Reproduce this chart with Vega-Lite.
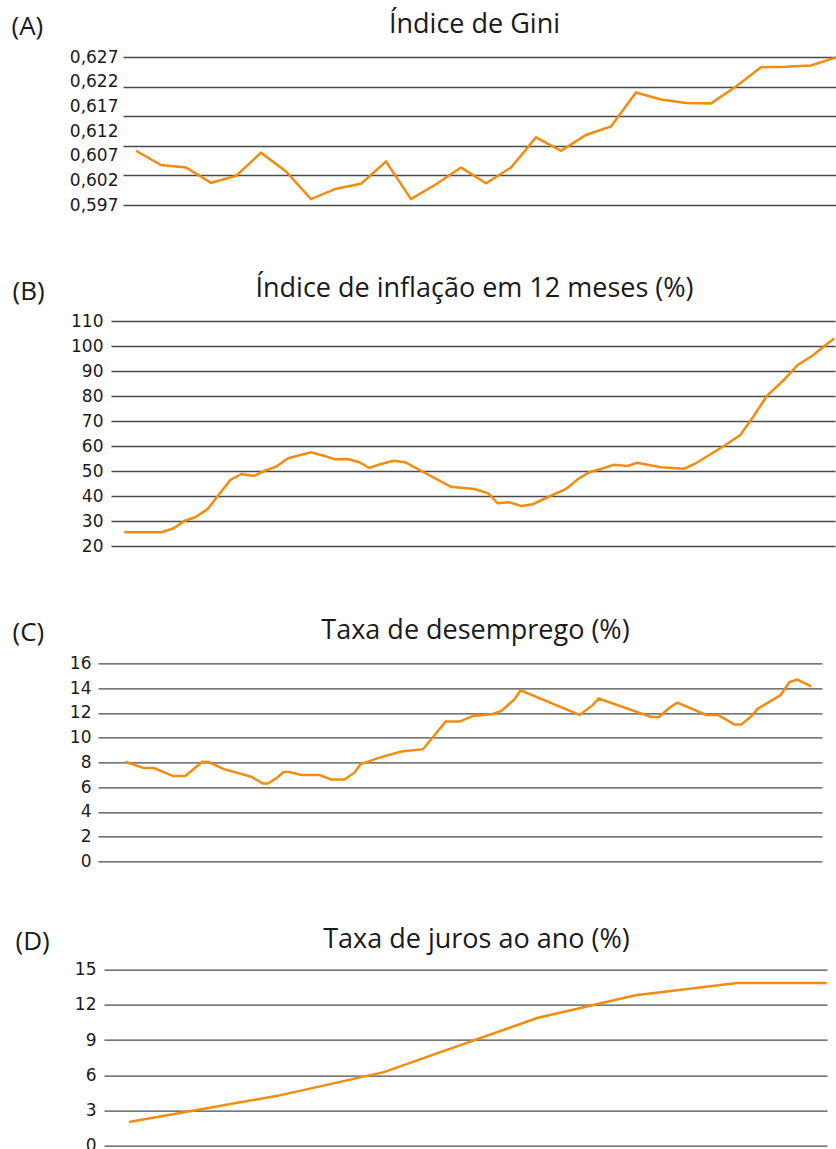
{
  "$schema": "https://vega.github.io/schema/vega-lite/v6.json",
  "background": "white",
  "padding": {"left": 9, "top": 10, "right": 0, "bottom": 0},
  "config": {
    "view": {"stroke": null},
    "axis": {
      "labelFont": "DejaVu Sans", "labelFontSize": 17, "labelColor": "#1a1a1a",
      "ticks": false, "domain": false,
      "gridColor": "#4a4a4a", "gridWidth": 1.3, "gridOpacity": 1,
      "titleFont": "Open Sans", "titleFontWeight": "normal", "titleColor": "#1a1a1a"
    },
    "line": {"color": "#F18C0E", "strokeWidth": 2.5}
  },
  "spacing": 55.6,
  "vconcat": [
    {
      "spacing": 62.3,
      "vconcat": [
        {
          "spacing": 61,
          "vconcat": [
            {"spacing": 0, "hconcat": [
              {"width": 2, "height": 1, "data": {"values": []}, "mark": {"type": "point", "opacity": 0}},
              {
                "width": 713, "height": 148,
                "data": {"values": [
                  {"i": 1, "v": 0.6080}, {"i": 2, "v": 0.6051}, {"i": 3, "v": 0.6046}, {"i": 4, "v": 0.6015},
                  {"i": 5, "v": 0.6029}, {"i": 6, "v": 0.6076}, {"i": 7, "v": 0.6038}, {"i": 8, "v": 0.5982},
                  {"i": 9, "v": 0.6003}, {"i": 10, "v": 0.6013}, {"i": 11, "v": 0.6058}, {"i": 12, "v": 0.5982},
                  {"i": 13, "v": 0.6012}, {"i": 14, "v": 0.6046}, {"i": 15, "v": 0.6014}, {"i": 16, "v": 0.6046},
                  {"i": 17, "v": 0.6107}, {"i": 18, "v": 0.6080}, {"i": 19, "v": 0.6112}, {"i": 20, "v": 0.6129},
                  {"i": 21, "v": 0.6198}, {"i": 22, "v": 0.6184}, {"i": 23, "v": 0.6177}, {"i": 24, "v": 0.6176},
                  {"i": 25, "v": 0.6210}, {"i": 26, "v": 0.6249}, {"i": 27, "v": 0.6250}, {"i": 28, "v": 0.6253},
                  {"i": 29, "v": 0.6269}
                ]},
                "layer": [
                  {
                    "mark": {"type": "line", "strokeOpacity": 0},
                    "encoding": {
                      "x": {"field": "i", "type": "quantitative", "scale": {"domain": [0.48, 29], "nice": false, "zero": false},
                            "axis": {"orient": "top", "labels": false, "grid": false, "title": "Índice de Gini", "titleFontSize": 27, "titleX": 351, "titleY": -25, "titleBaseline": "alphabetic", "titleAlign": "center"}},
                      "y": {"field": "v", "type": "quantitative", "scale": {"domain": [0.597, 0.627], "nice": false, "zero": false},
                            "axis": {"orient": "left", "values": [0.597, 0.603, 0.609, 0.615, 0.621, 0.627], "labels": false, "grid": true, "title": null}}
                    }
                  },
                  {
                    "mark": {"type": "line"},
                    "encoding": {
                      "x": {"field": "i", "type": "quantitative", "scale": {"domain": [0.48, 29], "nice": false, "zero": false},
                            "axis": {"orient": "top", "labels": false, "grid": false, "title": "Índice de Gini", "titleFontSize": 27, "titleX": 351, "titleY": -25, "titleBaseline": "alphabetic", "titleAlign": "center"}},
                      "y": {"field": "v", "type": "quantitative", "scale": {"domain": [0.597, 0.627], "nice": false, "zero": false},
                            "axis": {"orient": "left", "values": [0.597, 0.602, 0.607, 0.612, 0.617, 0.622, 0.627], "grid": false, "labelPadding": 5,
                                     "labelExpr": "replace(format(datum.value, '.3f'), '.', ',')",
                                     "title": "(A)", "titleAngle": 0, "titleAlign": "left", "titleBaseline": "alphabetic", "titleFontSize": 26, "titleX": -112, "titleY": -23}}
                    }
                  }
                ],
                "resolve": {"axis": {"y": "independent"}}
              }
            ]},
            {"spacing": 0, "hconcat": [
              {"width": 3, "height": 1, "data": {"values": []}, "mark": {"type": "point", "opacity": 0}},
              {
                "width": 724, "height": 225,
                "data": {"values": [
                  {"t": 0, "v": 25.5}, {"t": 3.27, "v": 25.5}, {"t": 4.31, "v": 27.1}, {"t": 5.24, "v": 30.0},
                  {"t": 6.2, "v": 31.5}, {"t": 7.28, "v": 34.8}, {"t": 8.3, "v": 40.8}, {"t": 9.26, "v": 46.4},
                  {"t": 10.25, "v": 48.8}, {"t": 11.3, "v": 48.0}, {"t": 12.23, "v": 50.0}, {"t": 13.25, "v": 51.7},
                  {"t": 14.32, "v": 55.1}, {"t": 16.31, "v": 57.5}, {"t": 17.41, "v": 56.1}, {"t": 18.4, "v": 54.7},
                  {"t": 19.51, "v": 54.8}, {"t": 20.52, "v": 53.5}, {"t": 21.4, "v": 51.2}, {"t": 22.42, "v": 52.8},
                  {"t": 23.53, "v": 54.1}, {"t": 24.52, "v": 53.5}, {"t": 28.53, "v": 43.7}, {"t": 30.57, "v": 42.8},
                  {"t": 31.79, "v": 41.1}, {"t": 32.61, "v": 37.1}, {"t": 33.62, "v": 37.5}, {"t": 34.65, "v": 36.0},
                  {"t": 35.67, "v": 36.7}, {"t": 37.27, "v": 40.1}, {"t": 38.58, "v": 42.8}, {"t": 39.6, "v": 46.7},
                  {"t": 40.61, "v": 49.5}, {"t": 41.63, "v": 50.8}, {"t": 42.74, "v": 52.5}, {"t": 43.97, "v": 52.0},
                  {"t": 44.78, "v": 53.3}, {"t": 45.71, "v": 52.5}, {"t": 46.87, "v": 51.5}, {"t": 48.91, "v": 50.9},
                  {"t": 49.93, "v": 53.1}, {"t": 51.09, "v": 56.4}, {"t": 52.4, "v": 60.1}, {"t": 53.8, "v": 64.4},
                  {"t": 54.97, "v": 72.0}, {"t": 56.13, "v": 80.1}, {"t": 57.59, "v": 86.4}, {"t": 58.81, "v": 92.4},
                  {"t": 60.06, "v": 96.0}, {"t": 62.01, "v": 103.1}
                ]},
                "mark": {"type": "line"},
                "encoding": {
                  "x": {"field": "t", "type": "quantitative", "scale": {"domain": [-1.16, 62.07], "nice": false, "zero": false},
                        "axis": {"orient": "top", "labels": false, "grid": false, "title": "Índice de inflação em 12 meses (%)", "titleFontSize": 27, "titleX": 363, "titleY": -25, "titleBaseline": "alphabetic", "titleAlign": "center"}},
                  "y": {"field": "v", "type": "quantitative", "scale": {"domain": [20, 110], "nice": false, "zero": false},
                        "axis": {"orient": "left", "values": [20, 30, 40, 50, 60, 70, 80, 90, 100, 110], "grid": true, "labelPadding": 8,
                                 "title": "(B)", "titleAngle": 0, "titleAlign": "left", "titleBaseline": "alphabetic", "titleFontSize": 26, "titleX": -99, "titleY": -22}}
                }
              }
            ]}
          ]
        },
        {"spacing": 0, "hconcat": [
          {"width": 3, "height": 1, "data": {"values": []}, "mark": {"type": "point", "opacity": 0}},
          {
            "width": 724, "height": 198,
            "data": {"values": [
              {"t": 0, "v": 8.04}, {"t": 1.87, "v": 7.53}, {"t": 2.87, "v": 7.53}, {"t": 4.77, "v": 6.89},
              {"t": 6.0, "v": 6.89}, {"t": 7.7, "v": 8.04}, {"t": 8.33, "v": 8.02}, {"t": 9.87, "v": 7.45},
              {"t": 12.6, "v": 6.83}, {"t": 13.77, "v": 6.29}, {"t": 14.27, "v": 6.29}, {"t": 15.2, "v": 6.77},
              {"t": 15.83, "v": 7.21}, {"t": 16.43, "v": 7.21}, {"t": 17.6, "v": 6.97}, {"t": 19.43, "v": 6.97},
              {"t": 20.6, "v": 6.61}, {"t": 21.93, "v": 6.61}, {"t": 22.93, "v": 7.18}, {"t": 23.53, "v": 7.85},
              {"t": 24.27, "v": 8.06}, {"t": 25.27, "v": 8.34}, {"t": 27.6, "v": 8.87}, {"t": 29.77, "v": 9.06},
              {"t": 32.03, "v": 11.29}, {"t": 33.43, "v": 11.29}, {"t": 34.77, "v": 11.75}, {"t": 36.67, "v": 11.89},
              {"t": 37.6, "v": 12.15}, {"t": 38.93, "v": 13.1}, {"t": 39.53, "v": 13.82}, {"t": 45.43, "v": 11.83},
              {"t": 46.77, "v": 12.64}, {"t": 47.33, "v": 13.15}, {"t": 52.6, "v": 11.67}, {"t": 53.37, "v": 11.67},
              {"t": 54.43, "v": 12.42}, {"t": 55.2, "v": 12.82}, {"t": 58.1, "v": 11.83}, {"t": 59.27, "v": 11.83},
              {"t": 60.93, "v": 11.05}, {"t": 61.6, "v": 11.05}, {"t": 62.53, "v": 11.67}, {"t": 63.27, "v": 12.34},
              {"t": 65.53, "v": 13.44}, {"t": 66.43, "v": 14.49}, {"t": 67.2, "v": 14.68}, {"t": 68.6, "v": 14.14}
            ]},
            "mark": {"type": "line"},
            "encoding": {
              "x": {"field": "t", "type": "quantitative", "scale": {"domain": [-2.73, 69.67], "nice": false, "zero": false},
                    "axis": {"orient": "top", "labels": false, "grid": false, "title": "Taxa de desemprego (%)", "titleFontSize": 27, "titleX": 377, "titleY": -25, "titleBaseline": "alphabetic", "titleAlign": "center"}},
              "y": {"field": "v", "type": "quantitative", "scale": {"domain": [0, 16], "nice": false, "zero": false},
                    "axis": {"orient": "left", "values": [0, 2, 4, 6, 8, 10, 12, 14, 16], "grid": true, "labelPadding": 7,
                             "title": "(C)", "titleAngle": 0, "titleAlign": "left", "titleBaseline": "alphabetic", "titleFontSize": 26, "titleX": -86, "titleY": -23}}
            }
          }
        ]}
      ]
    },
    {"spacing": 0, "hconcat": [
      {"width": 6, "height": 1, "data": {"values": []}, "mark": {"type": "point", "opacity": 0}},
      {
        "width": 723, "height": 176,
        "data": {"values": [
          {"t": 0, "v": 2.02}, {"t": 14.83, "v": 4.24}, {"t": 25.5, "v": 6.26}, {"t": 40.83, "v": 10.87},
          {"t": 50.67, "v": 12.81}, {"t": 60.83, "v": 13.86}, {"t": 69.8, "v": 13.86}
        ]},
        "mark": {"type": "line"},
        "encoding": {
          "x": {"field": "t", "type": "quantitative", "scale": {"domain": [-2.5, 69.83], "nice": false, "zero": false},
                "axis": {"orient": "top", "labels": false, "grid": false, "title": "Taxa de juros ao ano (%)", "titleFontSize": 27, "titleX": 372, "titleY": -22, "titleBaseline": "alphabetic", "titleAlign": "center"}},
          "y": {"field": "v", "type": "quantitative", "scale": {"domain": [0, 15], "nice": false, "zero": false},
                "axis": {"orient": "left", "values": [0, 3, 6, 9, 12, 15], "grid": true, "labelPadding": 8,
                         "title": "(D)", "titleAngle": 0, "titleAlign": "left", "titleBaseline": "alphabetic", "titleFontSize": 26, "titleX": -89, "titleY": -20}}
        }
      }
    ]}
  ]
}
